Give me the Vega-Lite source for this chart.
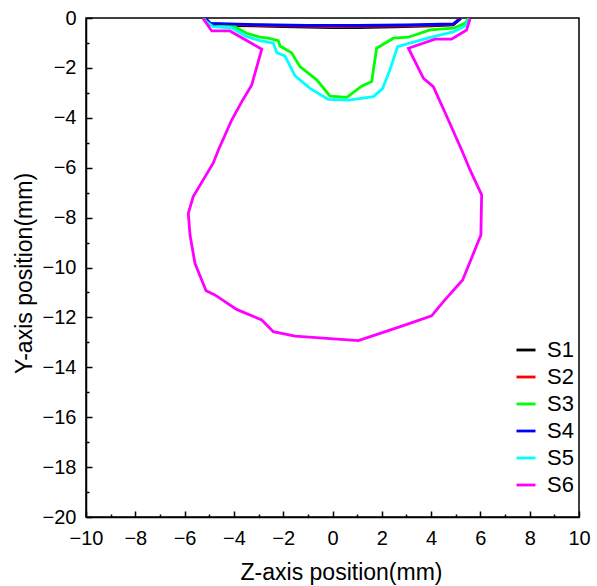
{
  "$schema": "https://vega.github.io/schema/vega-lite/v6.json",
  "width": 493,
  "height": 499,
  "autosize": {"type": "none"},
  "padding": {"left": 86, "top": 18, "right": 18, "bottom": 69},
  "background": "white",
  "config": {
    "view": {"stroke": "black", "strokeWidth": 1.5},
    "axis": {
      "domainColor": "black", "domainWidth": 1.5,
      "tickColor": "black", "tickWidth": 1.5,
      "labelFont": "Liberation Sans", "labelFontSize": 20, "labelColor": "black",
      "titleFont": "Liberation Sans", "titleFontSize": 23, "titleFontWeight": "normal", "titleColor": "black",
      "grid": false, "labelOverlap": false, "labelFlush": false
    }
  },
  "data": {
    "values": [
      {"s": "S1", "i": 0, "x": -5.2, "y": -0.02},
      {"s": "S1", "i": 1, "x": -5.0, "y": -0.27},
      {"s": "S1", "i": 2, "x": -4.0, "y": -0.3},
      {"s": "S1", "i": 3, "x": -2.0, "y": -0.34},
      {"s": "S1", "i": 4, "x": 0.0, "y": -0.38},
      {"s": "S1", "i": 5, "x": 1.0, "y": -0.38},
      {"s": "S1", "i": 6, "x": 2.5, "y": -0.35},
      {"s": "S1", "i": 7, "x": 4.0, "y": -0.31},
      {"s": "S1", "i": 8, "x": 4.9, "y": -0.28},
      {"s": "S1", "i": 9, "x": 5.2, "y": -0.02},

      {"s": "S2", "i": 0, "x": -5.15, "y": -0.02},
      {"s": "S2", "i": 1, "x": -4.95, "y": -0.24},
      {"s": "S2", "i": 2, "x": -3.0, "y": -0.29},
      {"s": "S2", "i": 3, "x": 0.0, "y": -0.34},
      {"s": "S2", "i": 4, "x": 3.0, "y": -0.31},
      {"s": "S2", "i": 5, "x": 4.9, "y": -0.26},
      {"s": "S2", "i": 6, "x": 5.15, "y": -0.02},

      {"s": "S3", "i": 0, "x": -5.2, "y": -0.02},
      {"s": "S3", "i": 1, "x": -5.04, "y": -0.21},
      {"s": "S3", "i": 2, "x": -4.02, "y": -0.32},
      {"s": "S3", "i": 3, "x": -3.48, "y": -0.61},
      {"s": "S3", "i": 4, "x": -2.94, "y": -0.77},
      {"s": "S3", "i": 5, "x": -2.6, "y": -0.81},
      {"s": "S3", "i": 6, "x": -2.2, "y": -0.91},
      {"s": "S3", "i": 7, "x": -2.13, "y": -1.12},
      {"s": "S3", "i": 8, "x": -1.66, "y": -1.39},
      {"s": "S3", "i": 9, "x": -1.32, "y": -1.95},
      {"s": "S3", "i": 10, "x": -0.64, "y": -2.48},
      {"s": "S3", "i": 11, "x": -0.1, "y": -3.13},
      {"s": "S3", "i": 12, "x": 0.58, "y": -3.18},
      {"s": "S3", "i": 13, "x": 1.18, "y": -2.73},
      {"s": "S3", "i": 14, "x": 1.59, "y": -2.55},
      {"s": "S3", "i": 15, "x": 1.79, "y": -1.21},
      {"s": "S3", "i": 16, "x": 2.47, "y": -0.81},
      {"s": "S3", "i": 17, "x": 3.07, "y": -0.77},
      {"s": "S3", "i": 18, "x": 3.96, "y": -0.48},
      {"s": "S3", "i": 19, "x": 4.9, "y": -0.41},
      {"s": "S3", "i": 20, "x": 5.38, "y": -0.21},
      {"s": "S3", "i": 21, "x": 5.51, "y": -0.03},

      {"s": "S4", "i": 0, "x": -5.15, "y": -0.02},
      {"s": "S4", "i": 1, "x": -4.95, "y": -0.22},
      {"s": "S4", "i": 2, "x": -3.0, "y": -0.27},
      {"s": "S4", "i": 3, "x": -1.0, "y": -0.3},
      {"s": "S4", "i": 4, "x": 1.0, "y": -0.3},
      {"s": "S4", "i": 5, "x": 3.0, "y": -0.28},
      {"s": "S4", "i": 6, "x": 4.9, "y": -0.24},
      {"s": "S4", "i": 7, "x": 5.2, "y": -0.02},

      {"s": "S5", "i": 0, "x": -5.25, "y": -0.02},
      {"s": "S5", "i": 1, "x": -5.1, "y": -0.15},
      {"s": "S5", "i": 2, "x": -4.84, "y": -0.35},
      {"s": "S5", "i": 3, "x": -4.09, "y": -0.39},
      {"s": "S5", "i": 4, "x": -3.48, "y": -0.75},
      {"s": "S5", "i": 5, "x": -2.94, "y": -0.91},
      {"s": "S5", "i": 6, "x": -2.4, "y": -1.01},
      {"s": "S5", "i": 7, "x": -2.26, "y": -1.39},
      {"s": "S5", "i": 8, "x": -1.93, "y": -1.52},
      {"s": "S5", "i": 9, "x": -1.52, "y": -2.32},
      {"s": "S5", "i": 10, "x": -0.91, "y": -2.82},
      {"s": "S5", "i": 11, "x": -0.17, "y": -3.26},
      {"s": "S5", "i": 12, "x": 0.64, "y": -3.29},
      {"s": "S5", "i": 13, "x": 1.66, "y": -3.15},
      {"s": "S5", "i": 14, "x": 2.03, "y": -2.83},
      {"s": "S5", "i": 15, "x": 2.33, "y": -2.08},
      {"s": "S5", "i": 16, "x": 2.64, "y": -1.15},
      {"s": "S5", "i": 17, "x": 3.14, "y": -1.01},
      {"s": "S5", "i": 18, "x": 4.09, "y": -0.75},
      {"s": "S5", "i": 19, "x": 4.9, "y": -0.56},
      {"s": "S5", "i": 20, "x": 5.38, "y": -0.32},
      {"s": "S5", "i": 21, "x": 5.55, "y": -0.03},

      {"s": "S6", "i": 0, "x": -5.25, "y": -0.02},
      {"s": "S6", "i": 1, "x": -4.9, "y": -0.52},
      {"s": "S6", "i": 2, "x": -4.16, "y": -0.52},
      {"s": "S6", "i": 3, "x": -2.87, "y": -1.25},
      {"s": "S6", "i": 4, "x": -3.28, "y": -2.69},
      {"s": "S6", "i": 5, "x": -3.68, "y": -3.35},
      {"s": "S6", "i": 6, "x": -4.09, "y": -4.09},
      {"s": "S6", "i": 7, "x": -4.63, "y": -5.29},
      {"s": "S6", "i": 8, "x": -4.84, "y": -5.82},
      {"s": "S6", "i": 9, "x": -5.65, "y": -7.16},
      {"s": "S6", "i": 10, "x": -5.85, "y": -7.83},
      {"s": "S6", "i": 11, "x": -5.78, "y": -8.7},
      {"s": "S6", "i": 12, "x": -5.58, "y": -9.83},
      {"s": "S6", "i": 13, "x": -5.13, "y": -10.93},
      {"s": "S6", "i": 14, "x": -4.77, "y": -11.1},
      {"s": "S6", "i": 15, "x": -3.89, "y": -11.68},
      {"s": "S6", "i": 16, "x": -2.87, "y": -12.1},
      {"s": "S6", "i": 17, "x": -2.4, "y": -12.57},
      {"s": "S6", "i": 18, "x": -1.52, "y": -12.75},
      {"s": "S6", "i": 19, "x": 1.05, "y": -12.93},
      {"s": "S6", "i": 20, "x": 1.93, "y": -12.64},
      {"s": "S6", "i": 21, "x": 3.14, "y": -12.24},
      {"s": "S6", "i": 22, "x": 4.02, "y": -11.94},
      {"s": "S6", "i": 23, "x": 4.56, "y": -11.3},
      {"s": "S6", "i": 24, "x": 5.28, "y": -10.5},
      {"s": "S6", "i": 25, "x": 6.02, "y": -8.7},
      {"s": "S6", "i": 26, "x": 6.05, "y": -7.09},
      {"s": "S6", "i": 27, "x": 5.58, "y": -6.09},
      {"s": "S6", "i": 28, "x": 5.24, "y": -5.29},
      {"s": "S6", "i": 29, "x": 4.7, "y": -4.09},
      {"s": "S6", "i": 30, "x": 4.09, "y": -2.75},
      {"s": "S6", "i": 31, "x": 3.69, "y": -2.42},
      {"s": "S6", "i": 32, "x": 3.08, "y": -1.21},
      {"s": "S6", "i": 33, "x": 4.16, "y": -0.85},
      {"s": "S6", "i": 34, "x": 4.83, "y": -0.85},
      {"s": "S6", "i": 35, "x": 5.44, "y": -0.48},
      {"s": "S6", "i": 36, "x": 5.58, "y": -0.03}
    ]
  },
  "mark": {"type": "line", "strokeWidth": 2.8, "clip": true},
  "encoding": {
    "x": {
      "field": "x", "type": "quantitative",
      "scale": {"domain": [-10, 10], "nice": false, "zero": false},
      "axis": {
        "title": "Z-axis position(mm)",
        "values": [-10, -9, -8, -7, -6, -5, -4, -3, -2, -1, 0, 1, 2, 3, 4, 5, 6, 7, 8, 9, 10],
        "labelExpr": "datum.value % 2 === 0 ? datum.label : ''",
        "tickSize": {"condition": {"test": "datum.value % 2 === 0", "value": -6}, "value": -3},
        "labelPadding": 17,
        "titleBaseline": "alphabetic",
        "titleY": 62,
        "titleX": 255
      }
    },
    "y": {
      "field": "y", "type": "quantitative",
      "scale": {"domain": [-20, 0], "nice": false, "zero": false},
      "axis": {
        "title": "Y-axis position(mm)",
        "values": [-20, -19, -18, -17, -16, -15, -14, -13, -12, -11, -10, -9, -8, -7, -6, -5, -4, -3, -2, -1, 0],
        "labelExpr": "datum.value % 2 === 0 ? datum.label : ''",
        "tickSize": {"condition": {"test": "datum.value % 2 === 0", "value": -6}, "value": -3},
        "labelPadding": 16,
        "titleBaseline": "alphabetic",
        "titleX": -55,
        "titleY": 255
      }
    },
    "color": {
      "field": "s", "type": "nominal",
      "scale": {"domain": ["S1", "S2", "S3", "S4", "S5", "S6"], "range": ["#000000", "#FF0000", "#00FF00", "#0000FF", "#00FFFF", "#FF00FF"]},
      "legend": {
        "orient": "none", "legendX": 429, "legendY": 321,
        "title": null, "padding": 0,
        "symbolType": "stroke", "symbolSize": 361, "symbolStrokeWidth": 2.8,
        "labelFont": "Liberation Sans", "labelFontSize": 22, "labelColor": "black",
        "labelOffset": 10, "rowPadding": 5
      }
    },
    "order": {"field": "i", "type": "quantitative"}
  }
}
